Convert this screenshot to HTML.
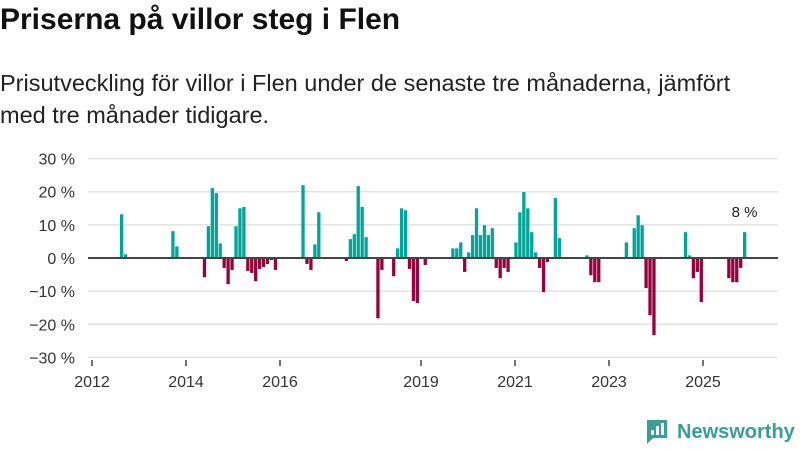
<!DOCTYPE html>
<html><head><meta charset="utf-8">
<style>
body{margin:0;width:800px;height:450px;background:#fff;font-family:"Liberation Sans",sans-serif;overflow:hidden;position:relative}
#title{position:absolute;left:0;top:3px;font-size:30px;font-weight:bold;color:#111;margin:0}
#sub{position:absolute;left:0;top:67px;font-size:23.5px;line-height:32px;color:#222;width:770px}
svg{position:absolute;left:0;top:0}
</style></head><body>
<h1 id="title">Priserna på villor steg i Flen</h1>
<div id="sub">Prisutveckling för villor i Flen under de senaste tre månaderna, jämfört med tre månader tidigare.</div>
<svg id="chart" width="800" height="450"></svg>
<script>
const monthIndex=[7,8,20,21,28,29,30,31,32,33,34,35,36,37,38,39,40,41,42,43,44,45,46,53,54,55,56,57,64,65,66,67,68,69,72,73,76,77,78,79,80,81,82,84,91,92,93,94,95,96,97,98,99,100,101,102,103,104,105,107,108,109,110,111,112,113,114,115,117,118,125,126,127,128,135,137,138,139,140,141,142,150,151,152,153,154,161,162,163,164,165];
const values=[13.2,1.1,8.1,3.5,-5.8,9.6,21.1,19.6,4.4,-3.0,-7.9,-3.6,9.6,15.0,15.4,-3.9,-4.5,-7.0,-3.3,-2.7,-1.8,-0.6,-3.6,22.0,-1.8,-3.6,4.1,13.8,-0.9,5.7,7.2,21.7,15.4,6.3,-18.2,-3.6,-5.5,2.9,15.0,14.4,-3.3,-13.0,-13.6,-2.1,2.9,2.9,4.7,-4.2,1.7,6.9,15.0,6.9,9.9,6.9,9.0,-3.0,-6.1,-3.0,-4.2,4.7,13.8,19.9,15.0,7.8,1.7,-3.0,-10.3,-1.2,18.1,6.0,0.8,-5.2,-7.3,-7.3,4.7,9.0,12.9,9.9,-9.1,-17.3,-23.3,7.8,0.8,-6.1,-4.2,-13.3,-6.1,-7.3,-7.3,-3.0,7.8];
const yTicks=[30,20,10,0,-10,-20,-30];
const yTickLabels=["30 %","20 %","10 %","0 %","−10 %","−20 %","−30 %"];
const xTickYears=[2012,2014,2016,2019,2021,2023,2025];
const lastLabel="8 %";
const NS="http://www.w3.org/2000/svg";
const svg=document.getElementById('chart');
function y(v){return 258-v*3.313;}
function xYear(yr){return 92+(yr-2012)*47;}
function xMonth(i){return 92.4+i*3.943;}
function mk(t,a,txt){const e=document.createElementNS(NS,t);for(const k in a)e.setAttribute(k,a[k]);if(txt!==undefined)e.textContent=txt;svg.appendChild(e);return e;}
yTicks.forEach((t,i)=>{
  if(t!==0){const g=mk('line',{x1:88,x2:778,y1:y(t),y2:y(t),stroke:'#e3e3e3','stroke-width':1.5});
  
  }
  const l=mk('text',{x:75,y:y(t)+6,'text-anchor':'end','font-size':16,fill:'#333'},yTickLabels[i]);
  
  
});
monthIndex.forEach((m,i)=>{
  const v=values[i];const x=xMonth(m);
  const r=mk('rect',{x:x,y:Math.min(y(v),y(0)),width:3.3,height:Math.abs(y(v)-y(0)),fill:v>=0?'#00a59a':'#96003c'});
  
  
});
const z=mk('line',{x1:88,x2:778,y1:y(0),y2:y(0),stroke:'#444','stroke-width':2});


xTickYears.forEach(yr=>{
  const t=mk('line',{x1:xYear(yr),x2:xYear(yr),y1:360,y2:366,stroke:'#444','stroke-width':1.5});
  
  
  const l=mk('text',{x:xYear(yr),y:387,'text-anchor':'middle','font-size':16,fill:'#333'},String(yr));
  
  
});
const li=monthIndex.length-1;
const lab=mk('text',{x:xMonth(monthIndex[li])+1.5,y:y(values[li])-15,'text-anchor':'middle','font-size':15,fill:'#222'},lastLabel);


</script>
<div style="position:absolute;left:645px;top:418px;display:flex;align-items:center">
<svg width="24" height="28" style="position:static"><path d="M2 2h20v18H8l-6 6z" fill="#3a9e95"/><rect x="6" y="12" width="3" height="5" fill="#fff"/><rect x="11" y="8" width="3" height="9" fill="#fff"/><rect x="16" y="5" width="3" height="12" fill="#fff"/></svg>
<span style="margin-left:8px;font-size:20px;font-weight:bold;color:#3a9e95">Newsworthy</span></div>
</body></html>
